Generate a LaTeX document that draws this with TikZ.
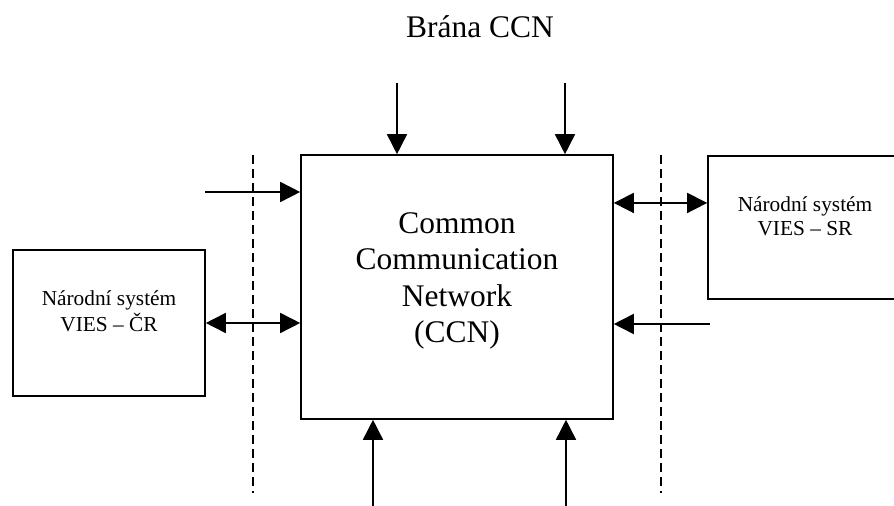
\documentclass[tikz,border=0pt]{standalone}
\usepackage{fontspec}
\setmainfont{Liberation Serif}
\usetikzlibrary{arrows.meta}

\begin{document}
\begin{tikzpicture}[x=0.75pt,y=0.75pt,yscale=-1,xscale=1,
    box/.style={draw,line width=1.2pt,inner sep=0pt},
    big/.style={font=\fontsize{23.6}{27.2}\selectfont,align=center},
    small/.style={font=\fontsize{16}{17.5}\selectfont,align=center},
    flow/.style={line width=1.2pt,-{Triangle[length=15pt,width=15pt]}},
    both/.style={line width=1.2pt,{Triangle[length=15pt,width=15pt]}-{Triangle[length=15pt,width=15pt]}},
    border/.style={line width=1pt,dash pattern=on 7pt off 3.5pt}]
    \useasboundingbox (0,0) rectangle (894,506);

    %Shape: Rectangle [CCN]
    \node (ccn) [box,minimum width=234pt,minimum height=198pt] at (457,287) {};
    %Shape: Rectangle [VIES CR]
    \node (cr) [box,minimum width=144pt,minimum height=109.5pt] at (109,323) {};
    %Shape: Rectangle [VIES SR]
    \node (sr) [box,minimum width=145.5pt,minimum height=107.25pt] at (805,227.5) {};

    % Text Node
    \node (title) [big,anchor=base] at (480,38) {Brána CCN};
    % Text Node
    \node (ccntext) [big] at ([yshift=-4.5pt]ccn.center) {Common\\Communication\\Network\\(CCN)};
    % Text Node
    \node (crtext) [small] at ([yshift=-8.5pt]cr.center) {Národní systém\\[2pt]VIES – ČR};
    % Text Node
    \node (srtext) [small] at ([yshift=-8.5pt]sr.center) {Národní systém\\VIES – SR};

    % free ends
    \coordinate (inleft) at (205,192);
    \coordinate (inright) at (710,324);
    \coordinate (srport) at ([yshift=-18.4pt]sr.west);
    \coordinate (top1) at (397,83);
    \coordinate (top2) at (565,83);
    \coordinate (bot1) at (373,506);
    \coordinate (bot2) at (566,506);

    %Straight Lines
    \draw [flow] (inleft) -- (inleft -| ccn.west);
    \draw [both] (cr.east) -- (cr.east -| ccn.west);
    \draw [both] (srport -| ccn.east) -- (srport);
    \draw [flow] (inright) -- (inright -| ccn.east);
    \draw [flow] (top1) -- (top1 |- ccn.north);
    \draw [flow] (top2) -- (top2 |- ccn.north);
    \draw [flow] (bot1) -- (bot1 |- ccn.south);
    \draw [flow] (bot2) -- (bot2 |- ccn.south);

    %Dashed Lines
    \draw [border] (253,155) -- (253,493);
    \draw [border] (661,155) -- (661,493);

\end{tikzpicture}
\end{document}
